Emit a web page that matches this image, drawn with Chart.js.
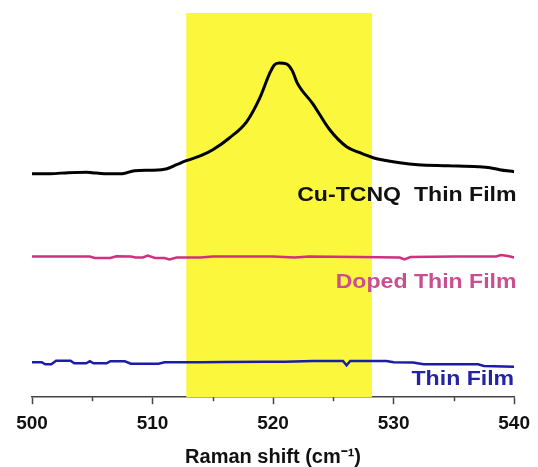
<!DOCTYPE html>
<html>
<head>
<meta charset="utf-8">
<title>Raman spectra</title>
<script src="https://cdn.jsdelivr.net/npm/chart.js"></script>
<style>
  html, body { margin: 0; padding: 0; background: #fff; overflow: hidden; }
  #wrap { width: 538px; height: 467px; position: relative; }
</style>
</head>
<body>
<div id="wrap"><canvas id="raman"></canvas></div>
<script>
// ---- spectra (Raman shift in cm^-1, intensity in arbitrary offset units) ----
const cuShift = [500, 501.5, 503, 504.5, 505, 506, 507.5, 508.5, 510, 511.2, 512, 512.8, 514, 515, 516.4, 517.8, 518.9, 519.7, 520.1, 520.5, 521.1, 521.6, 522, 523.3, 524.7, 526.1, 527.2, 528.3, 529, 530.5, 532, 534.5, 537, 538, 538.8, 540];
const cuIntensity = [224, 224, 225, 225.5, 225, 224, 224, 227, 227.5, 229, 233, 237, 242, 248, 260, 276, 300, 324, 333, 335, 334, 327, 315, 294, 268, 251, 245, 240, 238, 235, 233, 232, 231, 230, 228, 226];

const dopedShift = [500, 504.8, 505.2, 506.5, 507, 508.2, 508.6, 509.2, 509.6, 510.2, 511, 511.4, 512, 514, 515, 520, 521.8, 523, 527, 530.5, 530.9, 531.4, 535, 538.5, 538.9, 539.5, 540];
const dopedIntensity = [141, 141, 139.5, 139.5, 141.3, 141, 140, 140, 142, 139.5, 139.5, 138, 140, 140, 141, 141, 140, 141, 140.5, 140, 138, 140.5, 141, 141, 142.5, 141.5, 140];

const filmShift = [500, 500.8, 501.1, 501.6, 502, 503.2, 503.5, 504.5, 504.8, 505.1, 506.2, 506.5, 507.7, 508.2, 510.5, 511, 514, 516, 519.4, 521, 523.3, 525.8, 526.1, 526.4, 529.4, 530, 531.6, 532.5, 537, 537.5, 540];
const filmIntensity = [35, 35, 33, 33, 36.5, 36.5, 34, 34, 36, 34, 34, 36, 36, 33.5, 33.5, 35, 35, 35.3, 35.5, 35.5, 36.3, 36.3, 32, 36.3, 36.3, 35, 34.7, 33, 33, 31.3, 30.5];

const seriesNames = ['Cu-TCNQ  Thin Film', 'Doped Thin Film', 'Thin Film'];
const xTicks = [500, 510, 520, 530, 540];
const bandRange = [512.8, 528.2];   // highlighted Si region

const toPoints = (xs, ys) => xs.map((x, i) => ({ x: x, y: ys[i] }));

// yellow highlight band behind the spectra
const bandPlugin = {
  id: 'band',
  beforeDatasetsDraw(chart) {
    const { ctx, chartArea, scales } = chart;
    const x0 = scales.x.getPixelForValue(bandRange[0]);
    const x1 = scales.x.getPixelForValue(bandRange[1]);
    ctx.save();
    ctx.fillStyle = '#fbf73c';
    ctx.fillRect(x0, chartArea.top, x1 - x0, chartArea.bottom - chartArea.top);
    ctx.restore();
  }
};

// minor ticks every 5 cm^-1
const minorTicks = {
  id: 'minorTicks',
  afterDraw(chart) {
    const { ctx, scales } = chart;
    const xs = scales.x;
    ctx.save();
    ctx.strokeStyle = '#444';
    ctx.lineWidth = 1.5;
    for (let v = 505; v < 540; v += 10) {
      const px = Math.round(xs.getPixelForValue(v)) + 0.5;
      ctx.beginPath();
      ctx.moveTo(px, xs.top);
      ctx.lineTo(px, xs.top + 4);
      ctx.stroke();
    }
    ctx.restore();
  }
};

// series names under each trace
const seriesLabels = {
  id: 'seriesLabels',
  afterDatasetsDraw(chart, args, opts) {
    const { ctx, scales } = chart;
    ctx.save();
    ctx.font = 'bold 21px "Liberation Sans", Arial, sans-serif';
    ctx.textAlign = 'right';
    ctx.textBaseline = 'middle';
    opts.items.forEach(it => {
      const px = scales.x.getPixelForValue(it.x);
      const py = scales.y.getPixelForValue(it.y);
      ctx.save();
      ctx.translate(px, py);
      ctx.scale(1.1, 1);
      ctx.fillStyle = it.color;
      ctx.fillText(it.text, 0, 0);
      ctx.restore();
    });
    ctx.restore();
  }
};

new Chart(document.getElementById('raman'), {
  type: 'line',
  data: {
    datasets: [
      { label: seriesNames[0], data: toPoints(cuShift, cuIntensity), borderColor: '#000', borderWidth: 3, cubicInterpolationMode: 'monotone' },
      { label: seriesNames[1], data: toPoints(dopedShift, dopedIntensity), borderColor: '#d2307f', borderWidth: 2.5 },
      { label: seriesNames[2], data: toPoints(filmShift, filmIntensity), borderColor: '#1c1ca6', borderWidth: 2.5 }
    ]
  },
  options: {
    responsive: true,
    maintainAspectRatio: false,
    animation: false,
    layout: { padding: { left: 32, right: 22, top: 13, bottom: 0 } },
    elements: { point: { radius: 0 }, line: { tension: 0 } },
    plugins: {
      legend: { display: false },
      tooltip: { enabled: false },
      seriesLabels: {
        items: [
          { text: seriesNames[0], x: 540.2, y: 202, color: '#111' },
          { text: seriesNames[1], x: 540.2, y: 115, color: '#c94f8e' },
          { text: seriesNames[2], x: 540, y: 18, color: '#2323a4' }
        ]
      }
    },
    scales: {
      x: {
        type: 'linear',
        min: 500,
        max: 540,
        afterBuildTicks: axis => { axis.ticks = xTicks.map(v => ({ value: v })); },
        grid: { drawOnChartArea: false, tickLength: 7, tickColor: '#444', tickWidth: 1.5 },
        border: { color: '#444', width: 1.5 },
        ticks: {
          color: '#111',
          padding: 8,
          maxRotation: 0,
          font: { family: '"Liberation Sans", Arial, sans-serif', size: 19, weight: 'bold' }
        },
        title: {
          display: true,
          text: 'Raman shift (cm⁻¹)',
          color: '#111',
          padding: { top: 4, bottom: 0 },
          font: { family: '"Liberation Sans", Arial, sans-serif', size: 20, weight: 'bold', lineHeight: 1 }
        }
      },
      y: { display: false, min: 0, max: 385 }
    }
  },
  plugins: [bandPlugin, minorTicks, seriesLabels]
});
</script>
</body>
</html>
